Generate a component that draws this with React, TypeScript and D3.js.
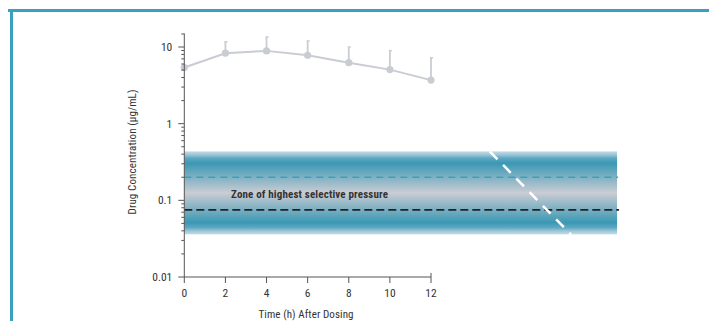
import React, { useEffect } from "react";
import * as d3 from "d3";

const timeHours = [0, 2, 4, 6, 8, 10, 12];
const concMean = [5.4, 8.3, 8.9, 7.8, 6.25, 5.07, 3.7];
const concUpper = [null, 11.7, 13.5, 12.0, 10.0, 8.95, 7.25];
const yTickValues = [0.01, 0.1, 1, 10];
const yTickLabels = ["0.01", "0.1", "1", "10"];
const xTickValues = [0, 2, 4, 6, 8, 10, 12];
const bandLow = 0.036;
const bandHigh = 0.435;
const bandEndHour = 21.05;
const mpcLine = 0.2;
const micLine = 0.075;
const declineStart = [14.86, 0.435];
const declineEnd = [18.8, 0.036];

const W = 709;
const H = 321;
const FONT = "'Liberation Sans Narrow', 'Arial Narrow', 'Roboto Condensed', Roboto, sans-serif";

export default function App() {
  useEffect(() => {
    document.body.style.margin = "0";
  }, []);

  const x = d3.scaleLinear().domain([0, 12]).range([184.3, 431]);
  const y = d3.scaleLog().domain([0.01, 10]).range([277, 47]);
  const yTop = y(15);

  const minor: number[] = [];
  [0.01, 0.1, 1].forEach((d) => {
    for (let k = 2; k <= 9; k++) minor.push(d * k);
  });

  const line = d3
    .line<number>()
    .x((_, i) => x(timeHours[i]))
    .y((d) => y(d));

  const axisColor = "#555";
  const dataColor = "#c9ccd3";

  return (
    <svg width={W} height={H} style={{ display: "block", background: "#fff" }}>
      <defs>
        <linearGradient id="band" x1="0" y1="0" x2="0" y2="1">
          <stop offset="0" stopColor="#c3dbe6" />
          <stop offset="0.04" stopColor="#9cc7d8" />
          <stop offset="0.08" stopColor="#5fa9c3" />
          <stop offset="0.14" stopColor="#3a98b4" />
          <stop offset="0.5" stopColor="#caccd3" />
          <stop offset="0.86" stopColor="#3a98b4" />
          <stop offset="0.92" stopColor="#5fa9c3" />
          <stop offset="0.96" stopColor="#9cc7d8" />
          <stop offset="1" stopColor="#c3dbe6" />
        </linearGradient>
      </defs>

      {/* frame */}
      <line x1={8} x2={W} y1={10.5} y2={10.5} stroke="#3aa0c2" strokeWidth={3} />
      <line x1={11.5} x2={11.5} y1={9} y2={H} stroke="#3aa0c2" strokeWidth={3} />

      {/* band */}
      <rect
        x={x(0)}
        y={y(bandHigh)}
        width={x(bandEndHour) - x(0)}
        height={y(bandLow) - y(bandHigh)}
        fill="url(#band)"
      />

      {/* threshold lines */}
      <line
        x1={x(0)}
        x2={x(bandEndHour) + 1}
        y1={y(mpcLine)}
        y2={y(mpcLine)}
        stroke="#3aa0bd"
        strokeWidth={1.5}
        strokeDasharray="7,5"
      />
      <line
        x1={x(0)}
        x2={x(bandEndHour) + 2}
        y1={y(micLine)}
        y2={y(micLine)}
        stroke="#222"
        strokeWidth={1.8}
        strokeDasharray="8,4"
      />

      {/* white decline */}
      <line
        x1={x(declineStart[0])}
        y1={y(declineStart[1])}
        x2={x(declineEnd[0])}
        y2={y(declineEnd[1])}
        stroke="#fff"
        strokeWidth={2.5}
        strokeDasharray="11,8"
      />

      <text
        x={231}
        y={197.5}
        fontFamily={FONT}
        fontWeight="bold"
        fontSize={11}
        textLength={157}
        fill="#333"
      >
        Zone of highest selective pressure
      </text>

      {/* data */}
      {timeHours.map((t, i) =>
        concUpper[i] != null ? (
          <g key={"e" + i}>
            <line x1={x(t)} x2={x(t)} y1={y(concMean[i])} y2={y(concUpper[i] as number)} stroke={dataColor} strokeWidth={1.8} />
            <line x1={x(t) - 1} x2={x(t) + 2} y1={y(concUpper[i] as number)} y2={y(concUpper[i] as number)} stroke={dataColor} strokeWidth={1.5} />
          </g>
        ) : null
      )}
      <path d={line(concMean) || ""} fill="none" stroke={dataColor} strokeWidth={2} />
      {timeHours.map((t, i) => (
        <circle key={"p" + i} cx={x(t)} cy={y(concMean[i])} r={3.6} fill={dataColor} />
      ))}

      {/* y axis */}
      <line x1={x(0)} x2={x(0)} y1={yTop} y2={y(0.01)} stroke={axisColor} strokeWidth={1} />
      <line x1={x(0) - 3} x2={x(0)} y1={yTop + 0.5} y2={yTop + 0.5} stroke={axisColor} strokeWidth={1} />
      {minor.map((v) => (
        <line key={"m" + v} x1={x(0) - 3} x2={x(0)} y1={y(v)} y2={y(v)} stroke={axisColor} strokeWidth={1} />
      ))}
      {yTickValues.map((v, i) => (
        <g key={"y" + v}>
          <line x1={x(0) - 6} x2={x(0)} y1={y(v)} y2={y(v)} stroke={axisColor} strokeWidth={1} />
          <text
            x={x(0) - 12}
            y={y(v)}
            dy="0.35em"
            textAnchor="end"
            fontFamily={FONT}
            fontSize={11.5}
            fill="#333"
          >
            {yTickLabels[i]}
          </text>
        </g>
      ))}
      <text
        transform={`translate(136,152) rotate(-90)`}
        textAnchor="middle"
        fontFamily={FONT}
        fontSize={11}
        textLength={125}
        fill="#333"
      >
        Drug Concentration (µg/mL)
      </text>

      {/* x axis */}
      <line x1={x(0)} x2={x(12)} y1={y(0.01)} y2={y(0.01)} stroke={axisColor} strokeWidth={1} />
      {xTickValues.map((v) => (
        <g key={"x" + v}>
          <line x1={x(v)} x2={x(v)} y1={y(0.01) - (v === 12 ? 4 : 0)} y2={y(0.01) + 6} stroke={axisColor} strokeWidth={1} />
          <text
            x={x(v)}
            y={297}
            textAnchor="middle"
            fontFamily={FONT}
            fontSize={11.5}
            fill="#333"
          >
            {v}
          </text>
        </g>
      ))}
      <text
        x={306}
        y={318}
        textAnchor="middle"
        fontFamily={FONT}
        fontSize={11}
        textLength={95}
        fill="#333"
      >
        Time (h) After Dosing
      </text>
    </svg>
  );
}
